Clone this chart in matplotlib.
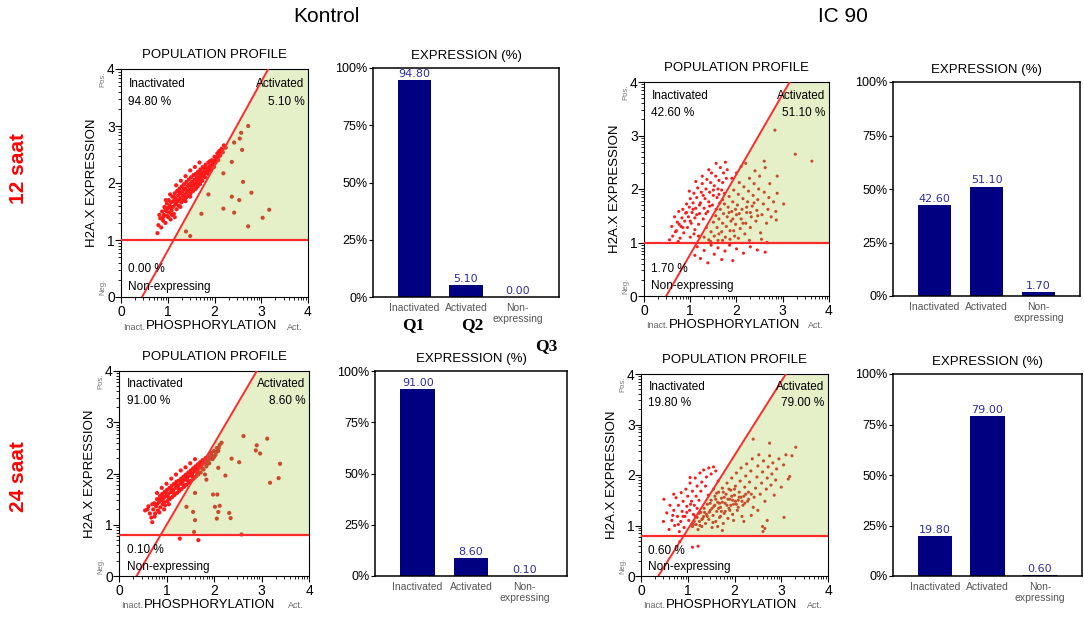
import numpy as np
import matplotlib
matplotlib.use("Agg")
import matplotlib.pyplot as plt

plt.rcParams["font.family"] = ["Liberation Sans", "DejaVu Sans"]

columns = ["Kontrol", "IC 90"]
rows = ["12 saat", "24 saat"]
categories = ["Inactivated", "Activated", "Non-\nexpressing"]

# expression percentages: inactivated, activated, non-expressing
pct_k12 = [94.80, 5.10, 0.00]
pct_i12 = [42.60, 51.10, 1.70]
pct_k24 = [91.00, 8.60, 0.10]
pct_i24 = [19.80, 79.00, 0.60]

# gates: expression threshold, phosphorylation where the diagonal hits y=0 and y=4
gate_k12 = (1.0, 0.45, 3.15)
gate_i12 = (1.0, 0.48, 3.15)
gate_k24 = (0.8, 0.37, 2.90)
gate_i24 = (0.8, 0.37, 3.10)

# cells (phosphorylation, H2A.X expression)
cells_k12 = [
    (0.78, 1.12), (0.80, 1.26), (0.84, 1.38), (0.86, 1.22), (0.88, 1.50), (0.90, 1.34),
    (0.92, 1.44), (0.93, 1.58), (0.95, 1.30), (0.96, 1.52), (0.98, 1.64), (0.99, 1.42),
    (1.00, 1.56), (1.02, 1.70), (1.03, 1.48), (1.04, 1.60), (1.06, 1.36), (1.07, 1.66),
    (1.08, 1.52), (1.10, 1.76), (1.11, 1.58), (1.12, 1.68), (1.13, 1.46), (1.15, 1.82),
    (1.16, 1.62), (1.17, 1.72), (1.19, 1.54), (1.20, 1.86), (1.21, 1.68), (1.22, 1.78),
    (1.24, 1.60), (1.25, 1.90), (1.26, 1.72), (1.27, 1.82), (1.29, 1.66), (1.30, 1.94),
    (1.31, 1.76), (1.32, 1.86), (1.34, 1.70), (1.35, 1.98), (1.36, 1.80), (1.37, 1.90),
    (1.39, 1.74), (1.40, 2.02), (1.41, 1.84), (1.42, 1.94), (1.44, 1.78), (1.45, 2.06),
    (1.46, 1.88), (1.47, 1.98), (1.49, 1.82), (1.50, 2.10), (1.51, 1.92), (1.52, 2.02),
    (1.54, 1.86), (1.55, 2.14), (1.56, 1.96), (1.57, 2.06), (1.59, 1.90), (1.60, 2.16),
    (1.61, 2.00), (1.62, 2.10), (1.64, 1.94), (1.65, 2.20), (1.66, 2.04), (1.67, 2.14),
    (1.69, 1.98), (1.70, 2.24), (1.71, 2.08), (1.72, 2.18), (1.74, 2.04), (1.75, 2.28),
    (1.76, 2.12), (1.78, 2.22), (1.80, 2.10), (1.81, 2.32), (1.82, 2.18), (1.84, 2.26),
    (1.86, 2.16), (1.87, 2.36), (1.88, 2.24), (1.90, 2.30), (1.92, 2.22), (1.94, 2.40),
    (1.95, 2.30), (1.97, 2.36), (1.99, 2.28), (2.00, 2.46), (2.02, 2.36), (2.04, 2.42),
    (2.06, 2.52), (2.08, 2.40), (2.10, 2.56), (2.12, 2.48), (2.15, 2.60), (2.18, 2.54),
    (2.20, 2.66), (2.24, 2.62), (1.05, 1.80), (0.96, 1.70), (1.18, 1.96), (1.28, 2.04),
    (1.38, 2.12), (1.48, 2.22), (1.58, 2.28), (1.68, 2.36), (1.15, 1.40), (0.82, 1.44),
    (0.90, 1.40), (0.94, 1.56), (0.98, 1.50), (1.01, 1.40), (1.05, 1.58), (1.09, 1.44),
    (1.13, 1.76), (1.18, 1.64), (1.23, 1.70), (1.27, 1.58), (1.33, 1.78), (1.38, 1.68),
    (1.43, 1.86), (1.48, 1.76), (1.53, 1.96), (1.58, 1.98), (1.63, 2.04), (1.68, 2.08),
    (1.73, 2.12), (1.79, 2.16), (1.85, 2.20), (1.91, 2.26), (1.96, 2.34), (2.01, 2.40),
    (2.07, 2.46), (2.13, 2.52), (1.45, 1.96), (1.35, 1.90), (1.25, 1.84), (1.15, 1.74),
    (1.60, 1.90), (1.70, 2.02), (1.80, 2.26), (1.90, 2.38),
    (2.72, 3.00), (2.57, 2.88), (2.54, 2.78), (2.42, 2.71), (2.59, 2.58), (2.37, 2.37),
    (2.19, 2.17), (2.61, 2.02), (1.87, 1.80), (2.79, 1.83), (2.37, 1.76), (2.53, 1.70),
    (2.19, 1.55), (2.42, 1.48), (3.17, 1.53), (3.03, 1.39), (1.72, 1.46), (2.72, 1.24),
    (1.39, 1.15), (1.48, 1.07),
]

cells_k24 = [
    (0.55, 1.28), (0.62, 1.36), (0.68, 1.14), (0.70, 1.05), (0.72, 1.30), (0.74, 1.42),
    (0.76, 1.22), (0.78, 1.36), (0.80, 1.50), (0.82, 1.28), (0.84, 1.44), (0.86, 1.56),
    (0.87, 1.34), (0.89, 1.48), (0.91, 1.60), (0.92, 1.40), (0.94, 1.52), (0.96, 1.64),
    (0.97, 1.38), (0.99, 1.56), (1.01, 1.68), (1.02, 1.46), (1.04, 1.60), (1.06, 1.72),
    (1.07, 1.50), (1.09, 1.64), (1.11, 1.76), (1.12, 1.54), (1.14, 1.68), (1.16, 1.80),
    (1.17, 1.58), (1.19, 1.72), (1.21, 1.84), (1.22, 1.62), (1.24, 1.76), (1.26, 1.86),
    (1.27, 1.66), (1.29, 1.80), (1.31, 1.90), (1.32, 1.70), (1.34, 1.84), (1.36, 1.94),
    (1.37, 1.74), (1.39, 1.88), (1.41, 1.98), (1.42, 1.78), (1.44, 1.92), (1.46, 2.02),
    (1.47, 1.82), (1.49, 1.96), (1.51, 2.06), (1.52, 1.86), (1.54, 2.00), (1.56, 2.10),
    (1.57, 1.90), (1.59, 2.04), (1.61, 2.14), (1.62, 1.94), (1.64, 2.08), (1.66, 2.18),
    (1.67, 1.98), (1.69, 2.12), (1.71, 2.22), (1.72, 2.02), (1.74, 2.16), (1.76, 2.26),
    (1.78, 2.08), (1.80, 2.20), (1.82, 2.30), (1.84, 2.14), (1.86, 2.24), (1.88, 2.34),
    (1.90, 2.20), (1.92, 2.30), (1.94, 2.40), (1.97, 2.28), (2.00, 2.44), (2.03, 2.36),
    (2.06, 2.50), (2.09, 2.44), (2.12, 2.56), (2.16, 2.60), (0.80, 1.62), (0.90, 1.72),
    (1.00, 1.80), (1.10, 1.90), (1.20, 1.98), (1.30, 2.06), (1.40, 2.12), (1.50, 2.20),
    (1.60, 2.28), (0.75, 1.16), (0.85, 1.24), (0.95, 1.30), (1.05, 1.40),
    (0.80, 1.40), (0.85, 1.50), (0.90, 1.56), (0.95, 1.44), (1.00, 1.62), (1.05, 1.52),
    (1.10, 1.70), (1.15, 1.62), (1.20, 1.78), (1.25, 1.70), (1.30, 1.86), (1.35, 1.78),
    (1.40, 1.92), (1.45, 1.86), (1.50, 2.00), (1.55, 1.94), (1.60, 2.10), (1.65, 2.02),
    (1.70, 2.16), (1.75, 2.10), (1.80, 2.26), (1.85, 2.18), (1.90, 2.28), (1.95, 2.36),
    (2.00, 2.32), (2.05, 2.42), (2.10, 2.50), (0.65, 1.22), (0.70, 1.40), (0.60, 1.30),
    (2.62, 2.73), (2.90, 2.55), (2.88, 2.45), (2.97, 2.39), (3.12, 2.68), (2.37, 2.29),
    (2.53, 2.22), (3.39, 2.19), (2.09, 2.11), (2.24, 1.96), (1.84, 1.88), (1.81, 1.98),
    (3.18, 1.82), (3.36, 1.91), (1.98, 1.59), (2.07, 1.59), (1.60, 1.62), (1.42, 1.35),
    (2.02, 1.35), (2.12, 1.37), (2.09, 1.25), (2.32, 1.23), (2.35, 1.13), (2.06, 1.12),
    (1.60, 1.09), (1.56, 1.25), (1.58, 0.86), (1.28, 0.73), (1.67, 0.70), (2.58, 0.81),
]

cells_i12 = [
    (0.55, 1.05), (0.60, 1.30), (0.62, 1.12), (0.66, 1.48), (0.70, 1.22), (0.72, 1.38),
    (0.75, 1.58), (0.78, 1.08), (0.80, 1.30), (0.82, 1.46), (0.84, 1.62), (0.86, 1.18),
    (0.88, 1.40), (0.90, 1.55), (0.92, 1.72), (0.94, 1.28), (0.96, 1.48), (0.98, 1.66),
    (1.00, 1.82), (1.00, 1.10), (1.02, 1.36), (1.04, 1.56), (1.06, 1.74), (1.08, 1.92),
    (1.10, 1.24), (1.10, 1.46), (1.12, 1.64), (1.14, 1.84), (1.16, 2.02), (1.18, 1.34),
    (1.20, 1.54), (1.22, 1.74), (1.24, 1.94), (1.26, 2.10), (1.28, 1.44), (1.30, 1.64),
    (1.32, 1.82), (1.34, 2.00), (1.36, 2.18), (1.38, 1.58), (1.40, 1.76), (1.42, 1.94),
    (1.44, 2.12), (1.46, 2.30), (1.48, 1.70), (1.50, 1.88), (1.52, 2.06), (1.55, 2.24),
    (1.58, 1.84), (1.60, 2.00), (1.62, 2.16), (1.65, 2.40), (1.68, 1.98), (1.70, 2.12),
    (1.72, 2.30), (1.76, 2.50), (1.78, 2.20), (1.80, 2.36), (0.98, 1.96), (1.12, 2.14),
    (1.26, 2.24), (1.40, 2.36), (1.56, 2.48), (1.08, 1.16), (0.74, 1.02), (1.18, 1.12),
    (1.30, 1.10), (1.35, 1.28), (1.40, 1.05), (1.45, 1.20), (1.50, 1.38), (1.52, 1.12),
    (1.55, 1.50), (1.58, 1.28), (1.60, 1.04), (1.62, 1.44), (1.65, 1.62), (1.68, 1.20),
    (1.70, 1.36), (1.72, 1.54), (1.74, 1.72), (1.76, 1.10), (1.78, 1.30), (1.80, 1.48),
    (1.82, 1.66), (1.84, 1.86), (1.86, 1.22), (1.88, 1.40), (1.90, 1.58), (1.92, 1.76),
    (1.94, 1.98), (1.96, 1.12), (1.98, 1.34), (2.00, 1.52), (2.02, 1.70), (2.04, 1.90),
    (2.06, 2.12), (2.08, 1.26), (2.10, 1.44), (2.12, 1.62), (2.14, 1.82), (2.16, 2.04),
    (2.18, 1.16), (2.20, 1.36), (2.22, 1.56), (2.24, 1.76), (2.26, 1.96), (2.28, 2.20),
    (2.30, 1.28), (2.32, 1.48), (2.34, 1.68), (2.36, 1.88), (2.38, 2.10), (2.40, 2.34),
    (2.42, 1.40), (2.44, 1.60), (2.46, 1.80), (2.48, 2.00), (2.50, 2.24), (2.52, 1.18),
    (2.55, 1.52), (2.58, 1.72), (2.60, 1.94), (2.62, 2.40), (2.65, 1.36), (2.68, 1.62),
    (2.70, 1.84), (2.72, 2.10), (2.75, 1.48), (2.80, 1.76), (2.85, 1.58), (2.88, 1.92),
    (1.62, 1.90), (1.90, 2.20), (2.00, 2.30), (2.10, 2.42), (2.20, 2.48), (1.70, 1.80),
    (2.54, 1.06), (2.66, 1.00), (1.44, 1.02),
    (0.68, 1.20), (0.76, 1.34), (0.84, 1.28), (0.92, 1.56), (1.00, 1.40), (1.06, 1.62),
    (1.14, 1.52), (1.20, 1.70), (1.28, 1.88), (1.34, 1.54), (1.42, 1.68), (1.50, 1.98),
    (1.56, 1.62), (1.64, 1.74), (1.74, 1.92), (1.84, 1.56), (1.92, 1.44), (1.98, 1.62),
    (2.06, 1.54), (2.14, 1.36), (2.22, 1.66), (2.30, 1.56), (2.38, 1.74), (2.46, 1.50),
    (1.70, 1.04), (1.86, 1.06), (2.04, 1.08), (2.28, 1.04), (1.62, 1.16), (1.94, 1.22),
    (1.15, 0.92), (1.22, 0.70), (1.30, 0.85), (1.38, 0.62), (1.45, 0.95), (1.52, 0.78),
    (1.60, 0.90), (1.68, 0.68), (1.75, 0.84), (1.85, 0.95), (1.92, 0.66), (2.00, 0.88),
    (2.15, 0.80), (2.30, 0.92), (2.45, 0.86), (2.62, 0.82), (1.10, 0.76),
    (2.83, 3.10), (3.27, 2.65), (3.63, 2.52), (2.88, 2.24), (3.02, 1.72), (2.86, 1.42),
    (2.60, 2.52),
]

cells_i24 = [
    (0.49, 1.52), (0.48, 1.08), (0.55, 1.25), (0.60, 0.92), (0.62, 1.40), (0.66, 1.10),
    (0.70, 1.30), (0.72, 1.00), (0.75, 1.55), (0.78, 1.18), (0.80, 1.40), (0.82, 0.88),
    (0.85, 1.08), (0.86, 1.65), (0.88, 1.28), (0.90, 1.48), (0.92, 0.96), (0.94, 1.18),
    (0.96, 1.72), (0.98, 1.38), (1.00, 1.58), (1.02, 1.10), (1.04, 1.30), (1.05, 1.84),
    (1.08, 1.48), (1.10, 1.68), (1.12, 1.22), (1.14, 1.40), (1.16, 1.94), (1.18, 1.58),
    (1.20, 1.78), (1.24, 1.50), (1.26, 2.04), (1.28, 1.68), (1.30, 1.86), (1.34, 2.10),
    (1.38, 1.78), (1.40, 1.96), (1.45, 2.14), (1.50, 2.02), (1.55, 2.16), (1.60, 2.08),
    (0.70, 1.62), (1.05, 1.95), (0.90, 1.18),
    (1.10, 0.98), (1.14, 1.08), (1.18, 1.02), (1.20, 1.16), (1.22, 0.92), (1.25, 1.08),
    (1.28, 1.26), (1.30, 0.98), (1.32, 1.14), (1.35, 1.34), (1.38, 1.04), (1.40, 1.22),
    (1.42, 1.42), (1.45, 1.12), (1.48, 1.30), (1.50, 1.50), (1.52, 0.96), (1.54, 1.20),
    (1.56, 1.38), (1.58, 1.58), (1.60, 1.08), (1.62, 1.28), (1.64, 1.46), (1.66, 1.66),
    (1.68, 1.16), (1.70, 1.36), (1.72, 1.54), (1.74, 1.74), (1.76, 1.04), (1.78, 1.24),
    (1.80, 1.44), (1.82, 1.62), (1.84, 1.84), (1.86, 1.14), (1.88, 1.34), (1.90, 1.52),
    (1.92, 1.70), (1.94, 1.94), (1.96, 1.22), (1.98, 1.42), (2.00, 1.60), (2.02, 1.78),
    (2.04, 2.04), (2.06, 1.30), (2.08, 1.50), (2.10, 1.66), (2.12, 1.88), (2.14, 2.14),
    (2.16, 1.18), (2.18, 1.40), (2.20, 1.58), (2.22, 1.76), (2.24, 1.98), (2.26, 2.22),
    (2.28, 1.48), (2.30, 1.66), (2.32, 1.86), (2.35, 2.08), (2.38, 2.32), (2.40, 1.36),
    (2.42, 1.56), (2.45, 1.74), (2.48, 1.96), (2.50, 2.18), (2.52, 2.40), (2.55, 1.62),
    (2.58, 1.84), (2.60, 2.06), (2.62, 2.28), (2.65, 1.48), (2.68, 1.72), (2.70, 1.94),
    (2.72, 2.16), (2.75, 2.38), (2.78, 1.80), (2.80, 2.02), (2.82, 2.24), (2.85, 1.60),
    (2.88, 1.90), (2.90, 2.12), (2.95, 2.32), (3.00, 1.76), (3.05, 2.20), (3.10, 2.40),
    (3.15, 1.92), (1.44, 1.60), (1.55, 1.72), (1.65, 1.88), (1.26, 1.00), (1.34, 1.18),
    (1.46, 1.26), (1.58, 1.40), (1.66, 1.34), (1.74, 1.46), (1.86, 1.52), (1.94, 1.58),
    (2.02, 1.48), (2.14, 1.56), (2.24, 1.62), (1.80, 1.28), (1.92, 1.40), (2.08, 1.36),
    (1.70, 1.18), (1.54, 1.06), (1.64, 0.98), (2.36, 1.20), (2.50, 1.30), (2.70, 1.10),
    (1.98, 1.10), (2.20, 1.08), (2.60, 0.98),
    (1.16, 1.18), (1.24, 1.24), (1.30, 1.12), (1.36, 1.26), (1.42, 1.18), (1.48, 1.44),
    (1.52, 1.34), (1.60, 1.52), (1.68, 1.44), (1.72, 1.28), (1.78, 1.56), (1.84, 1.40),
    (1.90, 1.30), (1.96, 1.50), (2.04, 1.42), (2.10, 1.56), (2.16, 1.48), (2.22, 1.44),
    (2.30, 1.52), (2.36, 1.62), (1.62, 1.64), (1.76, 1.66), (1.88, 1.72), (2.00, 1.72),
    (0.98, 1.26), (1.06, 1.42), (1.12, 1.02), (0.80, 1.02), (0.68, 1.20), (1.20, 1.34),
    (1.22, 0.59), (1.10, 0.57), (0.83, 0.68), (1.74, 0.90), (2.61, 0.88), (2.65, 0.94),
    (3.06, 1.16), (3.18, 1.97), (3.31, 2.55), (3.23, 2.38), (2.75, 2.63), (2.40, 2.71),
]

W, H = 1084, 622
RED = "#ff2b2b"
GREEN = "#e5efc8"
NAVY = "#000080"

fig = plt.figure(figsize=(W / 100, H / 100), dpi=100)


def px_axes(x0, y0, x1, y1):
    return fig.add_axes([x0 / W, 1 - y1 / H, (x1 - x0) / W, (y1 - y0) / H])


def ftext(x, y, s, **kw):
    kw.setdefault("ha", "center")
    kw.setdefault("va", "center")
    fig.text(x / W, 1 - y / H, s, **kw)


def profile(box, cells, gate, pct, size):
    x0, y0, x1, y1 = box
    ax = px_axes(*box)
    thr, g0, g4 = gate
    slope = 4 / (g4 - g0)
    xt = g0 + thr / slope
    ax.fill([xt, 4, 4, g4], [thr, thr, 4, 4], color=GREEN, lw=0, zorder=0)

    xs = np.array([c[0] for c in cells])
    ys = np.array([c[1] for c in cells])
    active = (ys > thr) & (xs > g0 + ys / slope)
    cols = np.where(active, "#cc4a2c", "#ff1a1a")
    ax.scatter(xs, ys, s=size, c=cols, lw=0, zorder=2)

    ax.axhline(thr, color=RED, lw=1.6, zorder=3)
    ax.plot([g0, g4], [0, 4], color=RED, lw=1.4, zorder=3)
    ax.set_xlim(0, 4)
    ax.set_ylim(0, 4)

    minor = [i + np.log10(k) for i in range(4) for k in range(2, 10)]
    ax.set_xticks(range(5))
    ax.set_yticks(range(5))
    ax.set_xticks(minor, minor=True)
    ax.set_yticks(minor, minor=True)
    ax.tick_params(which="major", length=4, labelsize=10, pad=2)
    ax.tick_params(axis="y", which="major", pad=0.5)
    ax.tick_params(which="minor", length=2)

    ax.text(0.04, 0.935, "Inactivated", transform=ax.transAxes, fontsize=8.5, va="center")
    ax.text(0.04, 0.855, f"{pct[0]:.2f} %", transform=ax.transAxes, fontsize=8.5, va="center")
    ax.text(0.98, 0.935, "Activated", transform=ax.transAxes, fontsize=8.5, va="center", ha="right")
    ax.text(0.98, 0.855, f"{pct[1]:.2f} %", transform=ax.transAxes, fontsize=8.5, va="center", ha="right")
    ax.text(0.04, 0.125, f"{pct[2]:.2f} %", transform=ax.transAxes, fontsize=8.5, va="center")
    ax.text(0.04, 0.045, "Non-expressing", transform=ax.transAxes, fontsize=8.5, va="center")

    ftext((x0 + x1) / 2, y0 - 14, "POPULATION PROFILE", fontsize=9.5)
    ftext(x0 - 29, (y0 + y1) / 2, "H2A.X EXPRESSION", fontsize=9.5, rotation=90)
    ftext(x0 - 18, y0 + 10, "Pos.", fontsize=5.5, rotation=90, color="#777777")
    ftext(x0 - 18, y1 - 10, "Neg.", fontsize=5.5, rotation=90, color="#777777")
    ftext(x0 + 13, y1 + 30, "Inact.", fontsize=6.5, color="#666666")
    ftext(x0 + 91, y1 + 29, "PHOSPHORYLATION", fontsize=9.5)
    ftext(x1 - 13, y1 + 30, "Act.", fontsize=6.5, color="#666666")


def expression(box, pct):
    x0, y0, x1, y1 = box
    ax = px_axes(*box)
    ax.bar(range(3), pct, width=0.65, color=NAVY, zorder=2)
    for i, v in enumerate(pct):
        ax.text(i, v + 0.6, f"{v:.2f}", ha="center", va="bottom", fontsize=8,
                family="DejaVu Sans", color="#2e2ea0")
    ax.set_xlim(-0.8, 2.8)
    ax.set_ylim(0, 100)
    ax.set_yticks([0, 25, 50, 75, 100])
    ax.set_yticklabels(["0%", "25%", "50%", "75%", "100%"])
    ax.set_xticks(range(3))
    ax.set_xticklabels(categories, fontsize=7.5, color="#555555", linespacing=1.2)
    ax.tick_params(axis="x", length=0, pad=4)
    ax.tick_params(axis="y", length=3, labelsize=9, pad=1)
    for sp in ax.spines.values():
        sp.set_linewidth(1.1)
    ftext((x0 + x1) / 2, y0 - 12, "EXPRESSION (%)", fontsize=9.5)


profile((121, 69, 308, 297), cells_k12, gate_k12, pct_k12, 9)
expression((373, 68, 559, 297), pct_k12)
profile((644, 82, 829, 296), cells_i12, gate_i12, pct_i12, 5)
expression((893, 82, 1080, 296), pct_i12)
profile((119, 371, 309, 576), cells_k24, gate_k24, pct_k24, 9)
expression((375, 371, 567, 576), pct_k24)
profile((641, 374, 828, 576), cells_i24, gate_i24, pct_i24, 5)
expression((893, 374, 1082, 576), pct_i24)

ftext(326, 17, columns[0], fontsize=15)
ftext(843, 17, columns[1], fontsize=15)
ftext(19, 168, rows[0], fontsize=15, rotation=90, color="#ff0000", weight="bold")
ftext(19, 477, rows[1], fontsize=15, rotation=90, color="#ff0000", weight="bold")

for lab, x, y in [("Q1", 413, 325), ("Q2", 472, 325), ("Q3", 546, 346)]:
    ftext(x, y, lab, fontsize=12.5, weight="bold", family="Liberation Serif")

fig.savefig("out.png", dpi=100)
